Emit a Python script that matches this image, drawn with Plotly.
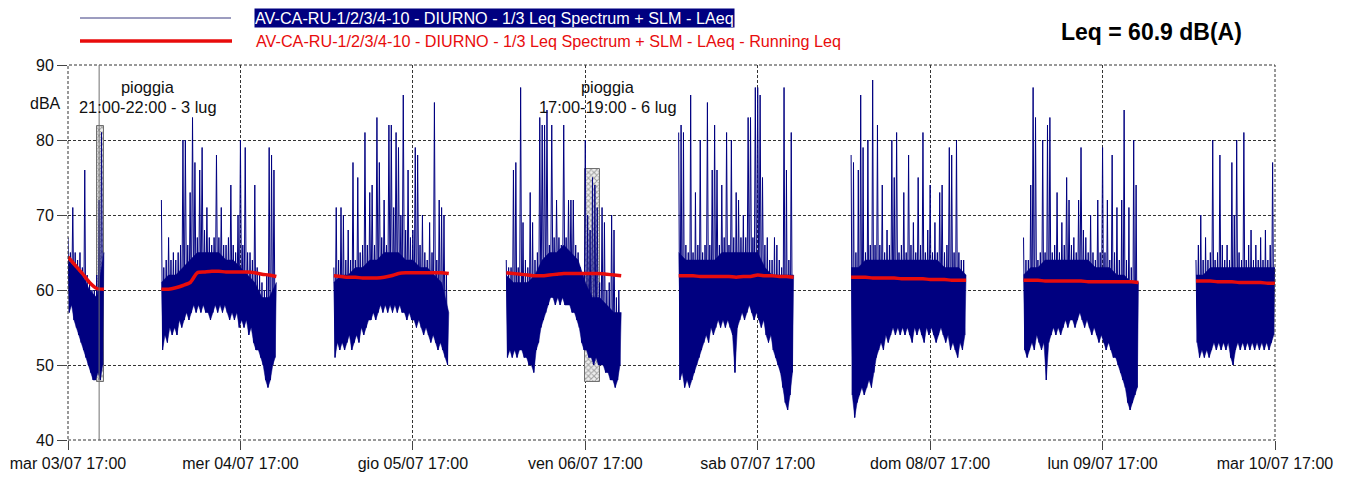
import pandas as pd
import plotly.graph_objects as go

# ---------------- data ----------------
# start of each measured (daytime) segment; values are 20-minute max / min of LAeq
seg_starts = ["2018-07-03 17:00", "2018-07-04 06:00", "2018-07-05 06:00", "2018-07-06 06:00",
              "2018-07-07 06:00", "2018-07-08 06:00", "2018-07-09 06:00", "2018-07-10 06:00"]

hi_03 = [67, 65, 71, 65, 64, 65, 63, 76, 62, 61, 60, 60, 62, 72, 81]
lo_03 = [57, 58, 56, 55, 54, 53, 52, 51, 50, 49, 48, 48, 49, 48, 50]

hi_04 = [72, 63, 64, 67, 64, 65, 64, 65, 66, 80, 80, 66, 73, 83, 77, 67, 76, 79, 68, 71, 67, 66, 67, 78,
         67, 71, 66, 66, 67, 74, 66, 65, 70, 80, 66, 79, 65, 65, 64, 74, 63, 62, 61, 60, 62, 79, 78, 76]
lo_04 = [52, 54, 53, 55, 54, 55, 54, 56, 55, 56, 57, 56, 57, 58, 57, 58, 57, 58, 57, 57, 56, 57, 58, 57,
         58, 57, 58, 57, 56, 57, 56, 57, 55, 56, 55, 56, 54, 55, 53, 52, 52, 51, 50, 48, 47, 48, 50, 51]

hi_05 = [63, 71, 64, 71, 70, 64, 68, 64, 77, 64, 75, 65, 66, 81, 66, 73, 74, 66, 83, 77, 67, 72, 66, 82,
         82, 71, 81, 79, 70, 86, 68, 76, 67, 68, 79, 78, 66, 70, 65, 64, 69, 65, 85, 64, 72, 71, 70, 62]
lo_05 = [51, 53, 52, 53, 52, 53, 54, 52, 53, 54, 53, 55, 54, 55, 56, 56, 57, 56, 57, 58, 57, 58, 57, 58,
         57, 58, 57, 58, 57, 57, 56, 57, 56, 56, 55, 56, 55, 54, 55, 54, 53, 54, 53, 52, 53, 52, 51, 50]

hi_06 = [64, 63, 63, 76, 77, 63, 87, 69, 64, 63, 73, 69, 64, 65, 83, 82, 82, 84, 66, 82, 67, 72, 67, 66,
         82, 67, 72, 72, 72, 66, 65, 63, 62, 80, 70, 68, 75, 74, 71, 61, 71, 69, 60, 61, 70, 68, 59, 60]
lo_06 = [51, 52, 51, 52, 51, 52, 52, 51, 51, 50, 50, 49, 52, 53, 55, 56, 57, 58, 59, 59, 58, 59, 58, 59,
         58, 58, 58, 57, 57, 56, 55, 53, 52, 52, 51, 51, 50, 51, 50, 50, 50, 49, 49, 48, 48, 47, 48, 50]

hi_07 = [81, 82, 81, 66, 65, 86, 65, 73, 66, 80, 65, 66, 85, 66, 76, 82, 76, 66, 74, 67, 81, 66, 80, 67,
         73, 72, 67, 70, 67, 83, 83, 67, 87, 87, 86, 75, 66, 67, 64, 64, 67, 66, 64, 63, 87, 76, 64, 81]
lo_07 = [48, 49, 47, 48, 47, 48, 49, 50, 51, 52, 53, 54, 53, 55, 54, 55, 56, 55, 56, 55, 56, 55, 54, 49,
         55, 56, 57, 56, 57, 58, 57, 56, 57, 56, 55, 56, 54, 53, 54, 52, 51, 50, 49, 47, 45, 44, 46, 49]

hi_08 = [78, 77, 65, 76, 86, 79, 65, 80, 66, 88, 66, 82, 66, 74, 65, 68, 66, 80, 75, 81, 65, 66, 73, 65,
         78, 66, 69, 65, 75, 66, 81, 65, 68, 74, 65, 69, 65, 73, 74, 65, 66, 79, 78, 65, 80, 65, 64, 64]
lo_08 = [46, 43, 45, 46, 47, 46, 47, 48, 47, 49, 51, 52, 53, 52, 54, 53, 54, 55, 54, 55, 54, 55, 54, 55,
         54, 53, 55, 54, 55, 54, 53, 55, 54, 55, 54, 53, 54, 55, 54, 53, 54, 52, 53, 52, 51, 53, 52, 54]

hi_09 = [67, 64, 64, 74, 87, 83, 64, 65, 80, 65, 82, 83, 65, 66, 73, 65, 69, 66, 75, 72, 66, 67, 65, 72,
         79, 68, 67, 65, 70, 65, 64, 72, 65, 79, 65, 72, 64, 78, 65, 71, 64, 72, 84, 64, 71, 63, 80, 74]
lo_09 = [52, 51, 52, 53, 52, 54, 53, 52, 53, 48, 53, 54, 55, 54, 55, 54, 55, 56, 55, 56, 56, 55, 56, 57,
         56, 55, 56, 55, 54, 55, 54, 53, 54, 53, 52, 53, 52, 51, 51, 50, 49, 48, 47, 45, 44, 45, 46, 47]

hi_10 = [64, 66, 70, 64, 67, 64, 65, 80, 64, 65, 78, 66, 64, 66, 64, 77, 70, 80, 65, 64, 81, 64, 66, 68,
         64, 66, 64, 67, 64, 68, 64, 66, 77]
lo_10 = [53, 51, 52, 51, 52, 51, 52, 53, 52, 53, 52, 53, 52, 53, 51, 50, 52, 53, 52, 53, 52, 53, 52, 53,
         52, 53, 52, 53, 52, 53, 52, 53, 54]

# hourly upper edge of the solid band of LAeq samples
core_03 = [64, 63, 62, 60, 59, 65]
core_04 = [61, 62, 62, 63, 64, 65, 65, 65, 65, 64, 64, 63, 62, 61, 59, 59, 61]
core_05 = [61, 62, 62, 63, 63, 64, 64, 65, 65, 65, 64, 64, 63, 63, 62, 61, 57]
core_06 = [62, 61, 61, 61, 62, 64, 65, 65, 66, 65, 64, 61, 59, 59, 58, 57, 57]
core_07 = [65, 64, 64, 64, 64, 64, 65, 65, 65, 65, 65, 65, 63, 62, 62, 62, 62]
core_08 = [63, 63, 64, 64, 64, 64, 64, 64, 64, 64, 64, 64, 64, 63, 63, 63, 62]
core_09 = [62, 63, 63, 64, 64, 64, 64, 64, 64, 64, 63, 63, 63, 62, 62, 61, 61]
core_10 = [62, 62, 63, 63, 63, 63, 63, 63, 63, 63, 63, 63]

# hourly running Leq (red line)
leq_03 = [64.4, 63.3, 62.2, 61.0, 60.2, 60.1]
leq_04 = [60.1, 60.1, 60.3, 60.6, 61.0, 62.3, 62.4, 62.5, 62.5, 62.4, 62.4, 62.4, 62.4, 62.3, 62.1, 62.0, 61.8]
leq_05 = [61.9, 61.8, 61.7, 61.7, 61.6, 61.6, 61.6, 61.7, 61.9, 62.2, 62.3, 62.3, 62.3, 62.3, 62.3, 62.3, 62.2]
leq_06 = [62.3, 62.2, 62.1, 62.0, 61.9, 61.9, 62.0, 62.1, 62.2, 62.2, 62.2, 62.2, 62.2, 62.2, 62.1, 62.0, 61.9]
leq_07 = [61.9, 61.9, 61.9, 61.8, 61.8, 61.8, 61.8, 61.8, 61.7, 61.8, 61.8, 62.0, 61.9, 61.9, 61.8, 61.8, 61.7]
leq_08 = [61.7, 61.7, 61.7, 61.6, 61.6, 61.6, 61.6, 61.5, 61.5, 61.5, 61.5, 61.4, 61.4, 61.4, 61.3, 61.3, 61.3]
leq_09 = [61.3, 61.3, 61.3, 61.2, 61.2, 61.2, 61.2, 61.2, 61.2, 61.1, 61.1, 61.1, 61.1, 61.1, 61.1, 61.1, 61.0]
leq_10 = [61.2, 61.2, 61.2, 61.1, 61.1, 61.1, 61.0, 61.0, 61.0, 61.0, 60.9, 60.9]

hi_all = [hi_03, hi_04, hi_05, hi_06, hi_07, hi_08, hi_09, hi_10]
lo_all = [lo_03, lo_04, lo_05, lo_06, lo_07, lo_08, lo_09, lo_10]
core_all = [core_03, core_04, core_05, core_06, core_07, core_08, core_09, core_10]
leq_all = [leq_03, leq_04, leq_05, leq_06, leq_07, leq_08, leq_09, leq_10]

tick_vals = ["2018-07-03 17:00", "2018-07-04 17:00", "2018-07-05 17:00", "2018-07-06 17:00",
             "2018-07-07 17:00", "2018-07-08 17:00", "2018-07-09 17:00", "2018-07-10 17:00"]
tick_text = ["mar 03/07 17:00", "mer 04/07 17:00", "gio 05/07 17:00", "ven 06/07 17:00",
             "sab 07/07 17:00", "dom 08/07 17:00", "lun 09/07 17:00", "mar 10/07 17:00"]

# rain periods (pioggia)
rain_center = ["2018-07-03 21:30", "2018-07-06 18:00"]
rain_hours = [1, 2]
rain_low = [47.8, 47.7]
rain_high = [81.9, 76.2]
cursor_time = "2018-07-03 21:20"

series_name = "AV-CA-RU-1/2/3/4-10 - DIURNO - 1/3 Leq Spectrum + SLM - LAeq"
leq_name = "AV-CA-RU-1/2/3/4-10 - DIURNO - 1/3 Leq Spectrum + SLM - LAeq - Running Leq"
leq_total = "Leq = 60.9 dB(A)"

# ---------------- build ----------------
FONT = "Arial, 'Liberation Sans', sans-serif"
NAVY = "#000080"
RED = "rgb(232,12,12)"

fig = go.Figure()

fig.add_trace(go.Bar(
    x=pd.to_datetime(rain_center), y=[h - l for h, l in zip(rain_high, rain_low)], base=rain_low,
    width=[h * 3600000 for h in rain_hours],
    marker=dict(color="#e0e0e0", line=dict(color="#707070", width=1),
                pattern=dict(shape="x", fgcolor="#555555", bgcolor="#eeeeee", size=4, solidity=0.45)),
    showlegend=False, hoverinfo="skip"))

# solid band: polygon between the hourly upper edge and the 20-minute minima
for start, core, lo in zip(seg_starts, core_all, lo_all):
    t_core = list(pd.date_range(start, periods=len(core), freq="1h"))
    t_lo = list(pd.date_range(pd.Timestamp(start) + pd.Timedelta("10min"), periods=len(lo), freq="20min"))
    fig.add_trace(go.Scatter(x=t_core + t_lo[::-1], y=list(core) + list(lo)[::-1], mode="lines",
                             fill="toself", fillcolor=NAVY, line=dict(color=NAVY, width=0.5),
                             showlegend=False, hoverinfo="skip"))

bx, by = [], []
for start, hi, lo in zip(seg_starts, hi_all, lo_all):
    times = pd.date_range(start, periods=2 * len(hi), freq="10min")
    vals = []
    for h, l in zip(hi, lo):
        vals += [h, l]
    bx += list(times) + [None]
    by += vals + [None]

rx, ry = [], []
for start, leq in zip(seg_starts, leq_all):
    times = pd.date_range(start, periods=len(leq), freq="1h")
    rx += list(times) + [None]
    ry += list(leq) + [None]

fig.add_trace(go.Scatter(x=bx, y=by, mode="lines", line=dict(color=NAVY, width=1),
                         showlegend=False, connectgaps=False))
fig.add_trace(go.Scatter(x=rx, y=ry, mode="lines", line=dict(color=RED, width=3.5, shape="spline",
                                                             smoothing=0.6),
                         showlegend=False, connectgaps=False))

# page coordinates of the plot area (the page body has an 8px margin)
OFF = 8
X0, X1, Y0, Y1 = 68, 1275, 65, 440
W, H = 1347, 469
L, T = X0 - OFF, Y0 - OFF
R, B = W - (X1 - OFF), H - (Y1 - OFF)
pw, ph = X1 - X0, Y1 - Y0


def px(x):
    return (x - X0) / pw


def py(y):
    return (Y1 - y) / ph


grid = dict(showgrid=True, gridcolor="#333333", gridwidth=1, griddash="3px,2px",
            zeroline=False, showline=False, automargin=False)

fig.update_layout(
    width=W, height=H, margin=dict(l=L, r=R, t=T, b=B, autoexpand=False),
    paper_bgcolor="white", plot_bgcolor="white",
    font=dict(family=FONT, size=16, color="#111111"),
    bargap=0,
    xaxis=dict(type="date", range=[tick_vals[0], tick_vals[-1]], tickvals=tick_vals, ticktext=tick_text,
               ticks="outside", ticklen=9, tickcolor="#444444", tickfont=dict(size=16, color="#111111"),
               **grid),
    yaxis=dict(range=[40, 90], tickvals=[40, 50, 60, 70, 80, 90], ticks="outside", ticklen=10,
               tickcolor="#444444", tickfont=dict(size=16, color="#111111"), **grid),
)

# frame
fig.add_shape(type="rect", xref="paper", yref="paper", x0=0, x1=1, y0=0, y1=1,
              line=dict(color="#333333", width=1, dash="3px,2px"), layer="above")
# cursor line
fig.add_shape(type="line", xref="x", yref="y", x0=cursor_time, x1=cursor_time, y0=40, y1=90,
              line=dict(color="#707070", width=1), layer="above")
# right image border
fig.add_shape(type="line", xref="paper", yref="paper", x0=px(1352), x1=px(1352), y0=py(477), y1=py(0),
              line=dict(color="black", width=2))

# custom legend
fig.add_shape(type="line", xref="paper", yref="paper", x0=px(80), x1=px(231), y0=py(18), y1=py(18),
              line=dict(color="#3a3a80", width=1))
fig.add_shape(type="line", xref="paper", yref="paper", x0=px(80), x1=px(232), y0=py(41), y1=py(41),
              line=dict(color=RED, width=3.5))
fig.add_annotation(xref="paper", yref="paper", x=px(254), y=py(18), xanchor="left", yanchor="middle",
                   text=series_name, showarrow=False, bgcolor=NAVY, borderpad=0,
                   font=dict(family=FONT, size=16.2, color="white"))
fig.add_annotation(xref="paper", yref="paper", x=px(254), y=py(41), xanchor="left", yanchor="middle",
                   text=leq_name, showarrow=False, font=dict(family=FONT, size=16.2, color=RED))
fig.add_annotation(xref="paper", yref="paper", x=px(1151), y=py(32), xanchor="center", yanchor="middle",
                   text="<b>" + leq_total + "</b>", showarrow=False,
                   font=dict(family=FONT, size=23, color="black"))

# axis title
fig.add_annotation(xref="paper", yref="paper", x=px(45), y=py(103), xanchor="center", yanchor="middle",
                   text="dBA", showarrow=False, font=dict(family=FONT, size=16, color="#111111"))

# rain notes
for xc, yl1, yl2, t2 in [(148, 87, 107, "21:00-22:00 - 3 lug"), (608, 87, 107, "17:00-19:00 - 6 lug")]:
    fig.add_annotation(xref="paper", yref="paper", x=px(xc), y=py(yl1), xanchor="center",
                       yanchor="middle", text="pioggia", showarrow=False,
                       font=dict(family=FONT, size=16.4, color="#111111"))
    fig.add_annotation(xref="paper", yref="paper", x=px(xc), y=py(yl2), xanchor="center",
                       yanchor="middle", text=t2, showarrow=False,
                       font=dict(family=FONT, size=16.4, color="#111111"))

fig.write_html("out.html")
